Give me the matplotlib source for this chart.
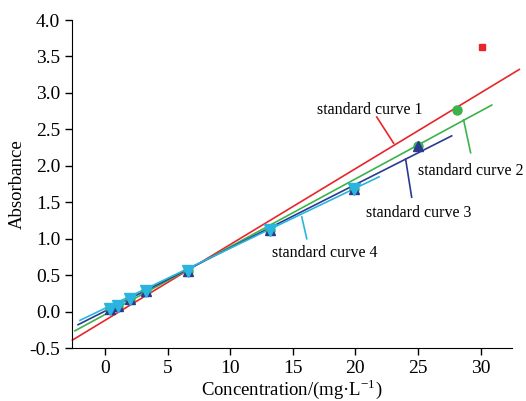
"""Absorbance standard curves (4 fits) vs concentration."""

import matplotlib.pyplot as plt

plt.rcParams["font.family"] = ["Liberation Serif", "DejaVu Serif"]
plt.rcParams["mathtext.fontset"] = "custom"
plt.rcParams["mathtext.rm"] = "Liberation Serif"
plt.rcParams["axes.unicode_minus"] = False

# measured points (shared low-range standards, more points for the wider curves)
conc = [0.4, 1.0, 2.0, 3.3, 6.6, 13.2, 19.9, 25.0, 28.1, 30.1]
absorb = [0.04, 0.08, 0.17, 0.28, 0.56, 1.12, 1.68, 2.27, 2.77, 3.63]
n_points = [10, 9, 8, 7]  # how many points each curve uses

# fitted lines: slope, intercept, x start, x end
slopes = [0.104, 0.093, 0.0868, 0.0824]
intercepts = [-0.12, -0.04, 0.007, 0.045]
x_start = [-2.6, -2.4, -2.15, -2.0]
x_end = [33.1, 30.9, 27.7, 21.9]

labels = ["standard curve 1", "standard curve 2", "standard curve 3", "standard curve 4"]
label_xy = [(21.15, 2.77), (29.21, 1.93), (25.06, 1.35), (17.56, 0.80)]
leader_from = [(21.71, 2.67), (29.21, 2.18), (24.50, 1.57), (16.12, 1.00)]
leader_to = [(23.06, 2.31), (28.65, 2.63), (24.02, 2.09), (15.72, 1.30)]

colors = ["#e8262a", "#3cb34a", "#2b3990", "#29b5e0"]
markers = ["s", "o", "^", "v"]
msizes = [5, 6.5, 7, 8.5]

fig = plt.figure(figsize=(5.26, 4.01), dpi=100)
ax = fig.add_axes([0.137, 0.132, 0.836, 0.818])

for i in range(4):
    k = n_points[i]
    ax.plot(conc[:k], absorb[:k], linestyle="none", marker=markers[i],
            color=colors[i], markersize=msizes[i], zorder=3 + i)
    xs = [x_start[i], x_end[i]]
    ys = [slopes[i] * x + intercepts[i] for x in xs]
    ax.plot(xs, ys, color=colors[i], lw=1.2, clip_on=False, zorder=2)
    ax.plot([leader_from[i][0], leader_to[i][0]], [leader_from[i][1], leader_to[i][1]],
            color=colors[i], lw=1.2, zorder=2)
    ax.text(label_xy[i][0], label_xy[i][1], labels[i], fontsize=11.5,
            ha="center", va="center")

ax.set_xlim(-2.63, 32.5)
ax.set_ylim(-0.5, 4.0)
ax.set_xticks([0, 5, 10, 15, 20, 25, 30])
ax.set_yticks([-0.5, 0.0, 0.5, 1.0, 1.5, 2.0, 2.5, 3.0, 3.5, 4.0])
ax.set_yticklabels([f"{v:.1f}" for v in ax.get_yticks()])
ax.tick_params(direction="out", length=5, width=1, labelsize=14)
ax.spines["top"].set_visible(False)
ax.spines["right"].set_visible(False)
ax.set_xlabel(r"Concentration/(mg·L$^{\mathrm{-1}}$)", fontsize=13.5, labelpad=0)
ax.set_ylabel("Absorbance", fontsize=13.5, labelpad=3)

fig.savefig("out.png", dpi=100)
